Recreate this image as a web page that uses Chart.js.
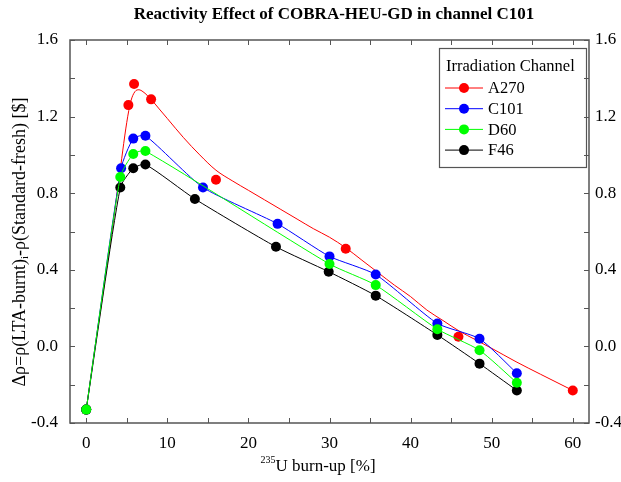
<!DOCTYPE html>
<html>
<head>
<meta charset="utf-8">
<script src="https://cdn.jsdelivr.net/npm/chart.js@4.4.0/dist/chart.umd.min.js"></script>
<style>
  html, body { margin: 0; padding: 0; background: #fff; }
</style>
</head>
<body>
<canvas id="chart" width="621" height="482"></canvas>
<script>
// Burn-up [%] and reactivity effect [$] per irradiation channel
const xA270 = [0, 5.2, 5.9, 8.0, 16.0, 32.0, 45.9, 60.0];
const yA270 = [-0.33, 1.26, 1.37, 1.29, 0.87, 0.51, 0.05, -0.23];

// fitted curve drawn for A270
const fitX = [0, 1, 2, 3, 4, 5, 5.5, 6, 6.5, 7, 8, 9, 10, 12, 14, 16, 18, 20, 22, 24, 26, 28, 30, 32, 34, 36, 38, 40, 42, 44, 46, 48, 50, 53, 56, 60];
const fitY = [-0.33, -0.03, 0.26, 0.55, 0.86, 1.17, 1.28, 1.33, 1.34, 1.33, 1.29, 1.24, 1.19, 1.09, 1.00, 0.92, 0.865, 0.815, 0.765, 0.715, 0.665, 0.615, 0.57, 0.515, 0.45, 0.385, 0.32, 0.26, 0.19, 0.135, 0.08, 0.035, -0.01, -0.08, -0.145, -0.23];

const xC101 = [0, 4.3, 5.8, 7.3, 14.4, 23.6, 30.0, 35.7, 43.3, 48.5, 53.1];
const yC101 = [-0.33, 0.93, 1.085, 1.10, 0.83, 0.64, 0.47, 0.375, 0.12, 0.04, -0.14];

const xD60 = [0, 4.2, 5.8, 7.3, 30.0, 35.7, 43.3, 48.5, 53.1];
const yD60 = [-0.33, 0.885, 1.005, 1.02, 0.43, 0.32, 0.09, -0.02, -0.19];

const xF46 = [0, 4.2, 5.8, 7.3, 13.4, 23.4, 29.9, 35.7, 43.3, 48.5, 53.1];
const yF46 = [-0.33, 0.83, 0.93, 0.95, 0.77, 0.52, 0.39, 0.265, 0.06, -0.09, -0.23];

const xTicks = [0, 10, 20, 30, 40, 50, 60];
const yTicks = [-0.4, 0.0, 0.4, 0.8, 1.2, 1.6];

const serif = '"Liberation Serif", "Times New Roman", serif';

function pts(xs, ys) {
    return xs.map((x, i) => ({ x: x, y: ys[i] }));
}

function series(label, xs, ys, color, order) {
    return {
        label: label,
        data: pts(xs, ys),
        borderColor: color,
        backgroundColor: color,
        borderWidth: 1,
        pointRadius: 5,
        pointBorderWidth: 0,
        tension: 0.2,
        order: order
    };
}

// frame, inward ticks, titles and the legend box
const decorations = {
    id: 'decorations',
    afterDraw(chart) {
        const ctx = chart.ctx;
        const a = chart.chartArea;
        const sx = chart.scales.x;
        const sy = chart.scales.y;
        ctx.save();

        ctx.strokeStyle = '#555';
        ctx.lineWidth = 1.5;
        ctx.strokeRect(a.left, a.top, a.right - a.left, a.bottom - a.top);

        ctx.lineWidth = 1;
        ctx.beginPath();
        for (let v = 0; v <= 60; v += 5) {
            const px = Math.round(sx.getPixelForValue(v)) + 0.5;
            ctx.moveTo(px, a.bottom); ctx.lineTo(px, a.bottom - 5);
            ctx.moveTo(px, a.top); ctx.lineTo(px, a.top + 5);
        }
        for (let k = -2; k <= 8; k++) {
            const py = Math.round(sy.getPixelForValue(k * 0.2)) + 0.5;
            ctx.moveTo(a.left, py); ctx.lineTo(a.left + 5, py);
            ctx.moveTo(a.right, py); ctx.lineTo(a.right - 5, py);
        }
        ctx.stroke();

        ctx.fillStyle = '#000';
        ctx.textBaseline = 'middle';

        // main title
        ctx.font = 'bold 17px ' + serif;
        ctx.textAlign = 'center';
        ctx.fillText('Reactivity Effect of COBRA-HEU-GD in channel C101', 334, 15);

        // x axis title with superscript
        ctx.textAlign = 'left';
        ctx.font = '10px ' + serif;
        const sup = '235';
        const supW = ctx.measureText(sup).width;
        ctx.font = '17px ' + serif;
        const main = 'U burn-up [%]';
        const mainW = ctx.measureText(main).width;
        const x0 = 318 - (supW + mainW) / 2;
        ctx.font = '10px ' + serif;
        ctx.fillText(sup, x0, 460);
        ctx.font = '17px ' + serif;
        ctx.fillText(main, x0 + supW, 467);

        // y axis title, rotated, with subscript i
        ctx.save();
        ctx.translate(20, 242);
        ctx.rotate(-Math.PI / 2);
        const p1 = '\u0394\u03c1=\u03c1(LTA-burnt)';
        const p2 = 'i';
        const p3 = '-\u03c1(Standard-fresh) [$]';
        ctx.font = '18px ' + serif;
        const w1 = ctx.measureText(p1).width;
        const w3 = ctx.measureText(p3).width;
        ctx.font = '11px ' + serif;
        const w2 = ctx.measureText(p2).width;
        let tx = -(w1 + w2 + w3) / 2;
        ctx.font = '18px ' + serif;
        ctx.fillText(p1, tx, 0);
        tx += w1;
        ctx.font = '11px ' + serif;
        ctx.fillText(p2, tx, 5);
        tx += w2;
        ctx.font = '18px ' + serif;
        ctx.fillText(p3, tx, 0);
        ctx.restore();

        // legend
        ctx.strokeStyle = '#555';
        ctx.lineWidth = 1.2;
        ctx.strokeRect(439.5, 48.5, 147, 119);
        ctx.font = '16.5px ' + serif;
        ctx.fillText('Irradiation Channel', 446, 67);
        const items = chart.data.datasets.filter(d => d.legend !== false);
        items.forEach((d, i) => {
            const y = 88 + i * 20.7;
            ctx.strokeStyle = d.borderColor;
            ctx.lineWidth = 1;
            ctx.beginPath();
            ctx.moveTo(445, y); ctx.lineTo(483, y);
            ctx.stroke();
            ctx.fillStyle = d.borderColor;
            ctx.beginPath();
            ctx.arc(464, y, 5, 0, Math.PI * 2);
            ctx.fill();
            ctx.fillStyle = '#000';
            ctx.fillText(d.label, 488, y + 1);
        });

        ctx.restore();
    }
};

const datasets = [
    {
        label: 'A270 fit',
        data: pts(fitX, fitY),
        borderColor: '#ff0000',
        borderWidth: 1,
        pointRadius: 0,
        cubicInterpolationMode: 'monotone',
        legend: false,
        order: 5
    },
    Object.assign(series('A270', xA270, yA270, '#ff0000', 4), { showLine: false }),
    series('C101', xC101, yC101, '#0000ff', 3),
    series('D60', xD60, yD60, '#00ff00', 1),
    series('F46', xF46, yF46, '#000000', 2)
];

const tickFont = { family: serif, size: 17 };

new Chart(document.getElementById('chart'), {
    type: 'line',
    data: { datasets: datasets },
    options: {
        responsive: false,
        animation: false,
        layout: { padding: { top: 40, left: 0, right: 0, bottom: 0 } },
        plugins: {
            legend: { display: false },
            tooltip: { enabled: false },
            title: { display: false }
        },
        scales: {
            x: {
                type: 'linear',
                min: -2,
                max: 62,
                afterBuildTicks: s => { s.ticks = xTicks.map(v => ({ value: v })); },
                afterFit: s => { s.height = 59; },
                grid: { display: false, drawTicks: false },
                border: { display: false },
                ticks: { font: tickFont, color: '#000', padding: 10, maxRotation: 0 }
            },
            y: {
                position: 'left',
                min: -0.4,
                max: 1.6,
                afterBuildTicks: s => { s.ticks = yTicks.map(v => ({ value: v })); },
                afterFit: s => { s.width = 70; },
                grid: { display: false, drawTicks: false },
                border: { display: false },
                ticks: { font: tickFont, color: '#000', padding: 12, callback: v => v.toFixed(1) }
            },
            y2: {
                position: 'right',
                min: -0.4,
                max: 1.6,
                afterBuildTicks: s => { s.ticks = yTicks.map(v => ({ value: v })); },
                afterFit: s => { s.width = 32; },
                grid: { display: false, drawTicks: false },
                border: { display: false },
                ticks: { font: tickFont, color: '#000', padding: 6, callback: v => v.toFixed(1) }
            }
        }
    },
    plugins: [decorations]
});
</script>
</body>
</html>
